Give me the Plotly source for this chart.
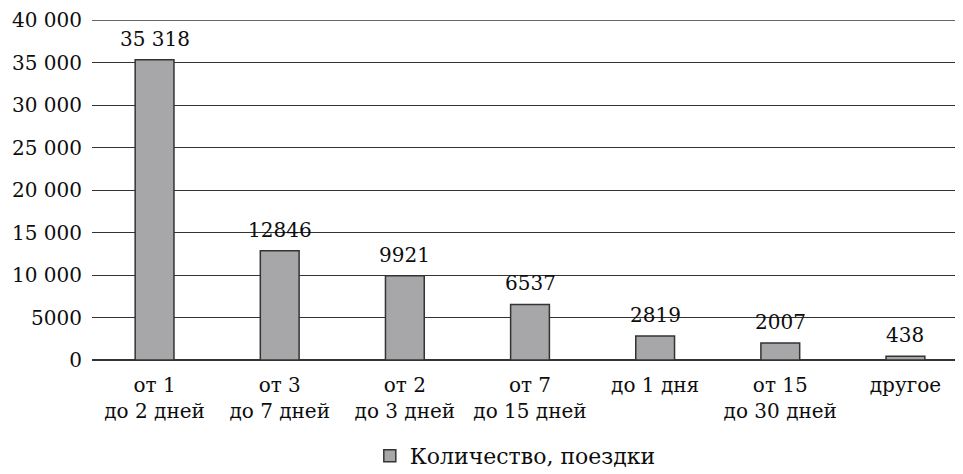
import plotly.graph_objects as go

categories = ["от 1<br>до 2 дней", "от 3<br>до 7 дней", "от 2<br>до 3 дней", "от 7<br>до 15 дней",
              "до 1 дня", "от 15<br>до 30 дней", "другое"]
values = [35318, 12846, 9921, 6537, 2819, 2007, 438]
value_labels = ["35 318", "12846", "9921", "6537", "2819", "2007", "438"]
tick_vals = [0, 5000, 10000, 15000, 20000, 25000, 30000, 35000, 40000]
tick_text = ["0", "5000", "10 000", "15 000", "20 000", "25 000", "30 000", "35 000", "40 000"]
series_name = "Количество, поездки"

FONT = "DejaVu Serif"
FS = 20
TXT = "#0d0d0d"

fig = go.Figure()
fig.add_trace(go.Bar(
    x=categories, y=values, name=series_name,
    marker=dict(color="#a7a7a9", line=dict(color="#333333", width=1.5)),
    showlegend=True,
))
for c, v, t in zip(categories, values, value_labels):
    fig.add_annotation(x=c, y=v, text=t, showarrow=False, yanchor="bottom", yshift=7,
                       font=dict(family=FONT, size=FS, color=TXT))
# top gridline at the upper edge of the value axis
fig.add_shape(type="line", xref="paper", x0=0, x1=1, yref="y", y0=tick_vals[-1], y1=tick_vals[-1],
              line=dict(color="#333333", width=1.3), layer="below")

fig.update_layout(
    width=955, height=466,
    margin=dict(l=84, r=0, t=12, b=114, autoexpand=False),
    paper_bgcolor="white", plot_bgcolor="white",
    font=dict(family=FONT, size=FS, color=TXT),
    bargap=0.69,
    showlegend=True,
    legend=dict(orientation="h", x=0.486, xanchor="center", y=-0.282, yanchor="middle",
                font=dict(family=FONT, size=22, color=TXT)),
)
fig.update_xaxes(range=[-0.5, 6.46], showgrid=False, showline=False, ticks="outside", ticklen=7,
                 tickcolor="white", tickfont=dict(size=FS), automargin=False)
fig.update_yaxes(range=[0, 40000], tickvals=tick_vals, ticktext=tick_text,
                 showgrid=True, gridcolor="#333333", gridwidth=1.3,
                 zeroline=True, zerolinecolor="#333333", zerolinewidth=2,
                 ticks="outside", ticklen=5, tickcolor="white",
                 tickfont=dict(size=FS), automargin=False)

fig.write_html("out.html")
